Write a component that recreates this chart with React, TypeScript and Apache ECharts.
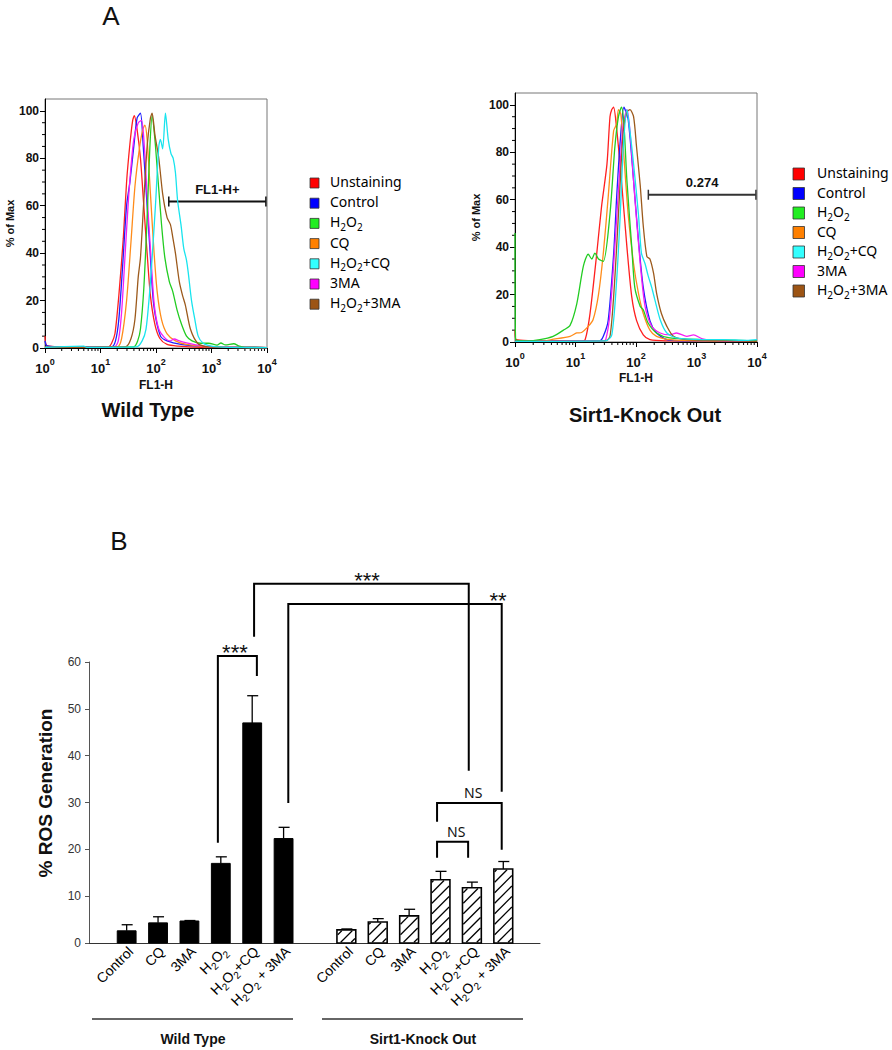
import React, { useEffect, useRef } from "react";
import * as echarts from "echarts";

// ---------- Panel A: flow cytometry histograms ----------
const seriesNames = ["Unstaining", "Control", "H2O2", "CQ", "H2O2+CQ", "3MA", "H2O2+3MA"];
const lineColors = ["#ff1f1f", "#1f1fff", "#22cc22", "#ff8c1a", "#18e4ee", "#f51ef5", "#9c5a1c"];
const legendColors = ["#ff0000", "#0000ff", "#22ee22", "#ff8000", "#33ffff", "#ff00ff", "#9c5414"];

// each point: [log10(FL1-H), % of Max]
const wtUnstaining = [[0, 5], [0.03, 1], [0.2, 0.6], [1.0, 0.3], [1.15, 0.5], [1.2, 2], [1.26, 6], [1.33, 22], [1.41, 46], [1.47, 70], [1.53, 86], [1.58, 96], [1.61, 98], [1.66, 92], [1.72, 80], [1.78, 60], [1.84, 40], [1.9, 22], [1.98, 10], [2.07, 4], [2.2, 1.5], [2.4, 0.8], [2.8, 0.3], [4, 0.2]];
const wtControl = [[0, 3], [0.03, 1], [0.2, 0.5], [1.2, 0.5], [1.27, 3], [1.33, 12], [1.4, 35], [1.47, 60], [1.53, 70], [1.6, 85], [1.66, 97], [1.72, 99], [1.77, 85], [1.84, 60], [1.9, 38], [1.96, 18], [2.08, 5], [2.2, 3], [2.45, 1.5], [2.8, 0.7], [3.2, 0.3], [4, 0.2]];
const wtH2O2 = [[0, 0.3], [1.6, 0.5], [1.67, 3], [1.72, 8], [1.78, 25], [1.84, 55], [1.89, 85], [1.93, 98], [1.98, 88], [2.04, 70], [2.1, 52], [2.16, 38], [2.24, 28], [2.3, 24], [2.38, 16], [2.46, 10], [2.55, 5], [2.65, 3], [2.8, 2], [2.95, 2], [3.1, 1.2], [3.17, 2.1], [3.25, 1.3], [3.4, 1.8], [3.5, 0.8], [3.6, 0.3], [4, 0.2]];
const wtCQ = [[0, 0.3], [1.3, 0.5], [1.38, 4], [1.47, 20], [1.55, 45], [1.62, 68], [1.7, 84], [1.76, 92], [1.8, 94], [1.84, 88], [1.9, 65], [1.96, 42], [2.02, 24], [2.1, 12], [2.2, 6], [2.35, 3], [2.55, 1.5], [2.9, 0.5], [4, 0.2]];
const wtH2O2CQ = [[0, 0.3], [0.7, 0.8], [0.75, 0.3], [1.65, 0.5], [1.75, 3], [1.82, 8], [1.88, 22], [1.93, 38], [1.99, 60], [2.05, 85], [2.08, 88], [2.12, 84], [2.17, 99], [2.22, 88], [2.27, 82], [2.31, 80], [2.35, 74], [2.39, 62], [2.45, 52], [2.5, 42], [2.55, 37], [2.58, 32], [2.64, 20], [2.7, 12], [2.76, 5], [2.85, 2], [3.0, 0.8], [3.3, 0.3], [4, 0.2]];
const wt3MA = [[0, 0.3], [1.25, 0.5], [1.32, 3], [1.38, 15], [1.45, 42], [1.52, 68], [1.6, 88], [1.68, 95], [1.74, 96], [1.79, 85], [1.85, 60], [1.91, 38], [1.97, 18], [2.05, 8], [2.15, 4.5], [2.25, 3], [2.33, 3.8], [2.42, 3], [2.55, 2.2], [2.75, 1.2], [3.0, 0.5], [4, 0.2]];
const wtH2O23MA = [[0, 0.3], [1.45, 0.5], [1.55, 4], [1.62, 12], [1.68, 30], [1.72, 38], [1.78, 62], [1.84, 85], [1.9, 97], [1.93, 99], [1.98, 90], [2.05, 80], [2.12, 65], [2.2, 55], [2.26, 52], [2.3, 47], [2.35, 40], [2.42, 28], [2.48, 22], [2.53, 18], [2.62, 8], [2.75, 2], [2.9, 0.6], [3.2, 0.3], [4, 0.2]];

const koUnstaining = [[0, 5], [0.02, 1], [0.25, 0.6], [1.1, 0.4], [1.16, 1], [1.24, 12], [1.35, 37], [1.43, 57], [1.52, 75], [1.57, 95], [1.6, 98], [1.63, 99], [1.68, 90], [1.76, 68], [1.85, 40], [1.93, 19], [2.01, 9], [2.12, 3], [2.23, 1], [2.5, 0.5], [4, 0.4]];
const koControl = [[0, 0.3], [1.4, 0.5], [1.46, 2.4], [1.54, 9], [1.63, 37], [1.68, 61], [1.74, 85], [1.8, 99], [1.87, 94], [1.96, 68], [2.04, 43], [2.12, 23], [2.23, 9], [2.34, 3.8], [2.51, 1], [2.8, 0.5], [4, 0.3]];
const koH2O2 = [[0, 46], [0.01, 1], [0.2, 0.5], [0.41, 1], [0.63, 2.4], [0.8, 5], [0.91, 7], [1.02, 16], [1.13, 32], [1.21, 37], [1.27, 35], [1.32, 37.5], [1.38, 35], [1.46, 34], [1.57, 54], [1.65, 82], [1.71, 95], [1.76, 99], [1.8, 92], [1.85, 68], [1.93, 40], [1.98, 23], [2.07, 15], [2.12, 13.6], [2.2, 8], [2.34, 3.8], [2.56, 1.7], [3.1, 1], [4, 0.5]];
const koCQ = [[0, 0.3], [0.5, 0.5], [0.6, 1], [0.91, 2.4], [1.02, 3.8], [1.1, 4], [1.21, 6.6], [1.29, 9.4], [1.38, 20], [1.46, 37.5], [1.54, 61], [1.63, 89], [1.68, 92], [1.71, 98], [1.75, 96], [1.79, 82], [1.87, 54], [1.96, 33], [2.04, 20.6], [2.12, 12], [2.23, 5], [2.34, 2.4], [2.56, 1], [3, 0.5], [4, 0.3]];
const koH2O2CQ = [[0, 0.3], [1.5, 0.5], [1.6, 3], [1.68, 26], [1.74, 54], [1.79, 82], [1.85, 98], [1.9, 89], [1.96, 75], [2.04, 54], [2.09, 37.5], [2.15, 33], [2.2, 28], [2.26, 23], [2.31, 18], [2.4, 9.4], [2.51, 3.8], [2.67, 1.7], [3.1, 1], [3.44, 1], [3.83, 0.7], [4, 1]];
const ko3MA = [[0, 0.3], [1.45, 0.5], [1.5, 1], [1.57, 12], [1.65, 40], [1.72, 68], [1.79, 92], [1.85, 98], [1.9, 89], [1.98, 61], [2.07, 33], [2.15, 15], [2.26, 6.6], [2.4, 3.8], [2.56, 3], [2.67, 3.8], [2.84, 2.4], [2.95, 3], [3.1, 1.3], [3.4, 0.5], [4, 0.3]];
const koH2O23MA = [[0, 0.3], [1.5, 0.5], [1.57, 2.4], [1.63, 19], [1.68, 40], [1.74, 68], [1.79, 89], [1.85, 97], [1.9, 98], [1.96, 95], [2.01, 82], [2.07, 66], [2.12, 49], [2.18, 36], [2.23, 35], [2.29, 29], [2.34, 20.6], [2.42, 12], [2.51, 6.6], [2.62, 2.4], [2.84, 1], [4, 0.3]];

const wtCurves = [wtUnstaining, wtControl, wtH2O2, wtCQ, wtH2O2CQ, wt3MA, wtH2O23MA];
const koCurves = [koUnstaining, koControl, koH2O2, koCQ, koH2O2CQ, ko3MA, koH2O23MA];
const drawOrder = [0, 1, 3, 5, 2, 6, 4];

const histYTicks = [0, 20, 40, 60, 80, 100];
const histYMinor = [5, 10, 15, 25, 30, 35, 45, 50, 55, 65, 70, 75, 85, 90, 95];
const histXMinor = [1, 10, 100, 1000].flatMap((d) => [2, 3, 4, 5, 6, 7, 8, 9].map((k) => k * d));

// gates: [FL1-H start, FL1-H end, % of Max]
const wtGate = [170, 9550, 61.8];
const koGate = [160, 9600, 62.1];

// ---------- Panel B: % ROS generation ----------
const barCategories = ["Control", "CQ", "3MA", "H2O2", "H2O2+CQ", "H2O2 + 3MA"];
const wtPos = [0, 1, 2, 3, 4, 5];
const koPos = [7, 8, 9, 10, 11, 12];
const wtMean = [2.6, 4.3, 4.7, 17.0, 47.0, 22.3];
const wtErr = [1.3, 1.3, 0.1, 1.4, 5.8, 2.4];
const koMean = [2.8, 4.5, 5.8, 13.5, 11.8, 15.8];
const koErr = [0.2, 0.7, 1.4, 1.8, 1.2, 1.6];

// significance brackets: [xLeft, yLeftBottom, yTop, xRight, yRightBottom, label, labelX]
const brackets: any[] = [
  [2.906, 21.4, 61.3, 4.149, 57.0, "***", 3.45],
  [4.06, 65.4, 76.7, 10.9, 36.8, "***", 7.66],
  [5.15, 29.9, 72.4, 11.95, 32.3, "**", 11.83],
  [9.89, 25.9, 29.9, 11.95, 19.9, "NS", 11.04],
  [9.89, 18.2, 21.6, 10.88, 18.2, "NS", 10.5],
];

const ARIAL = "'Liberation Sans', Arial, Helvetica, sans-serif";
const SANS = "'Noto Sans', 'Open Sans', sans-serif";

function toRich(label: string) {
  const parts = label.split("H2O2");
  return parts.map((p) => (p ? `{n|${p}}` : "")).join("{n|H}{s|2}{n|O}{s|2}");
}

function histX(gi: number, gap: number) {
  return {
    type: "log",
    logBase: 10,
    gridIndex: gi,
    min: 1,
    max: 10000,
    name: "FL1-H",
    nameLocation: "middle",
    nameGap: gap,
    nameTextStyle: { fontFamily: ARIAL, fontWeight: "bold", fontSize: 12, color: "#111" },
    axisLine: { show: true, onZero: false, lineStyle: { color: "#000", width: 1 } },
    axisTick: { show: true, length: 5, lineStyle: { color: "#000" } },
    minorTick: { show: false },
    splitLine: { show: false },
    axisLabel: {
      margin: 9,
      formatter: (v: number) => `{b|10}{p|${Math.round(Math.log10(v))}}`,
      rich: {
        b: { fontFamily: ARIAL, fontWeight: "bold", fontSize: 13, color: "#111", lineHeight: 18, verticalAlign: "bottom" },
        p: { fontFamily: ARIAL, fontWeight: "bold", fontSize: 9, color: "#111", lineHeight: 9, verticalAlign: "top" },
      },
    },
  };
}

function histY(gi: number, gap: number) {
  return {
    type: "value",
    gridIndex: gi,
    min: 0,
    max: 105,
    interval: 20,
    name: "% of Max",
    nameLocation: "middle",
    nameGap: gap,
    nameRotate: 90,
    nameTextStyle: { fontFamily: ARIAL, fontWeight: "bold", fontSize: 11, color: "#111" },
    axisLine: { show: true, onZero: false, lineStyle: { color: "#000", width: 1 } },
    axisTick: { show: true, length: 5, customValues: histYTicks, lineStyle: { color: "#000" } },
    axisLabel: { customValues: histYTicks, fontFamily: ARIAL, fontWeight: "bold", fontSize: 12, color: "#111", margin: 6 },
    splitLine: { show: false },
  };
}

function minorSeries(gi: number) {
  return [
    {
      type: "custom",
      xAxisIndex: gi,
      yAxisIndex: gi,
      silent: true,
      data: histXMinor.map((v) => [v, 0]),
      encode: { x: 0, y: 1 },
      renderItem: (_p: any, api: any) => {
        const p = api.coord([api.value(0), 0]);
        return { type: "line", shape: { x1: p[0], y1: p[1], x2: p[0], y2: p[1] + 3 }, style: { stroke: "#000", lineWidth: 1 } };
      },
    },
    {
      type: "custom",
      xAxisIndex: gi,
      yAxisIndex: gi,
      silent: true,
      data: histYMinor.map((v) => [1, v]),
      encode: { x: 0, y: 1 },
      renderItem: (_p: any, api: any) => {
        const p = api.coord([1, api.value(1)]);
        return { type: "line", shape: { x1: p[0] - 3, y1: p[1], x2: p[0], y2: p[1] }, style: { stroke: "#000", lineWidth: 1 } };
      },
    },
  ];
}

function histSeries(gi: number, curves: number[][][]) {
  return drawOrder.map((k) => ({
    type: "line",
    name: seriesNames[k],
    xAxisIndex: gi,
    yAxisIndex: gi,
    data: curves[k].map(([e, v]) => [Math.pow(10, e), v]),
    showSymbol: false,
    symbol: "none",
    smooth: 0.25,
    lineStyle: { color: lineColors[k], width: 1.3 },
    itemStyle: { color: lineColors[k] },
  }));
}

function hatch(x0: number, x1: number, yT: number, yB: number, step: number) {
  const out: any[] = [];
  if (yB - yT < 1) return out;
  const start = x0 + yB + 3 - step * Math.ceil((yB - yT + x1 - x0) / step);
  for (let c = start; c < x1 + yB; c += step) {
    const xa = Math.max(x0, c - yB);
    const xb = Math.min(x1, c - yT);
    if (xb - xa > 0.5) {
      out.push({ type: "line", shape: { x1: xa, y1: c - xa, x2: xb, y2: c - xb }, style: { stroke: "#000", lineWidth: 1.3 } });
    }
  }
  return out;
}

function barSeries(pos: number[], mean: number[], err: number[], hatched: boolean) {
  return {
    type: "custom",
    xAxisIndex: 2,
    yAxisIndex: 2,
    data: pos.map((x, i) => [x, mean[i], err[i]]),
    encode: { x: 0, y: 1 },
    renderItem: (_p: any, api: any) => {
      const x = api.value(0);
      const v = api.value(1);
      const e = api.value(2);
      const base = api.coord([x, 0]);
      const top = api.coord([x, v]);
      const et = api.coord([x, v + e]);
      const bw = api.size([0.6, 0])[0];
      const x0 = base[0] - bw / 2;
      const x1 = base[0] + bw / 2;
      const children: any[] = [
        { type: "line", shape: { x1: base[0], y1: top[1], x2: base[0], y2: et[1] }, style: { stroke: "#000", lineWidth: 1.3 } },
        { type: "line", shape: { x1: base[0] - 5, y1: et[1], x2: base[0] + 6, y2: et[1] }, style: { stroke: "#000", lineWidth: 1.3 } },
        {
          type: "rect",
          shape: { x: x0, y: top[1], width: bw, height: base[1] - top[1] },
          style: hatched ? { fill: "#fff", stroke: "#000", lineWidth: 1.6 } : { fill: "#000", stroke: "#000", lineWidth: 1 },
        },
      ];
      if (hatched) children.push(...hatch(x0 + 0.8, x1 - 0.8, top[1] + 0.8, base[1] - 0.8, 10.5));
      return { type: "group", children };
    },
  };
}

const baseOption: any = {
  animation: false,
  backgroundColor: "#ffffff",
  grid: [
    { left: 45, top: 99, width: 222, height: 249, show: true, borderColor: "#777", borderWidth: 1 },
    { left: 515, top: 93, width: 242, height: 249, show: true, borderColor: "#777", borderWidth: 1 },
    { left: 89, top: 662, width: 451, height: 281 },
  ],
  xAxis: [
    histX(0, 31),
    histX(1, 30),
    {
      type: "value",
      gridIndex: 2,
      min: -1.2,
      max: 13.17,
      axisLine: { show: true, onZero: false, lineStyle: { color: "#333", width: 1 } },
      axisTick: { show: false },
      axisLabel: { show: false },
      splitLine: { show: false },
    },
  ],
  yAxis: [
    histY(0, 30),
    histY(1, 34),
    {
      type: "value",
      gridIndex: 2,
      min: 0,
      max: 60,
      interval: 10,
      axisLine: { show: true, onZero: false, lineStyle: { color: "#555", width: 1 } },
      axisTick: { show: true, length: 4, lineStyle: { color: "#555" } },
      axisLabel: { fontFamily: ARIAL, fontSize: 12, color: "#333", margin: 8 },
      splitLine: { show: false },
    },
  ],
  series: [
    ...minorSeries(0),
    ...minorSeries(1),
    ...histSeries(0, wtCurves),
    ...histSeries(1, koCurves),
    barSeries(wtPos, wtMean, wtErr, false),
    barSeries(koPos, koMean, koErr, true),
  ],
};

export default function App() {
  const ref = useRef<HTMLDivElement>(null);
  useEffect(() => {
    const chart = echarts.init(ref.current as HTMLDivElement, null, { renderer: "svg" });
    chart.setOption(baseOption);
    const px = (gi: number, x: number, y: number) =>
      chart.convertToPixel({ xAxisIndex: gi, yAxisIndex: gi } as any, [x, y]) as number[];

    const g: any[] = [];
    const text = (x: number, y: number, t: string, style: any, extra: any = {}) =>
      g.push({ type: "text", x, y, ...extra, style: { text: t, fill: "#111", align: "center", verticalAlign: "middle", ...style } });

    // panel letters
    text(111, 16, "A", { fontFamily: ARIAL, fontSize: 26 });
    text(119, 541, "B", { fontFamily: ARIAL, fontSize: 26 });

    // histogram titles
    text(148, 410, "Wild Type", { fontFamily: ARIAL, fontSize: 20, fontWeight: "bold" });
    text(645, 415, "Sirt1-Knock Out", { fontFamily: ARIAL, fontSize: 20, fontWeight: "bold" });

    // gates
    const gate = (gi: number, gd: number[], label: string, color: string) => {
      const a = px(gi, gd[0], gd[2]);
      const b = px(gi, gd[1], gd[2]);
      g.push({ type: "line", shape: { x1: a[0], y1: a[1], x2: b[0], y2: b[1] }, style: { stroke: color, lineWidth: 2 } });
      g.push({ type: "line", shape: { x1: a[0], y1: a[1] - 5, x2: a[0], y2: a[1] + 5 }, style: { stroke: color, lineWidth: 1.5 } });
      g.push({ type: "line", shape: { x1: b[0], y1: b[1] - 5, x2: b[0], y2: b[1] + 5 }, style: { stroke: color, lineWidth: 1.5 } });
      text((a[0] + b[0]) / 2, a[1] - 12, label, { fontFamily: ARIAL, fontSize: 13, fontWeight: "bold" });
    };
    gate(0, wtGate, "FL1-H+", "#111");
    gate(1, koGate, "0.274", "#333");

    // legends
    const legendRich = {
      n: { fontFamily: SANS, fontSize: 14, color: "#222", lineHeight: 17, verticalAlign: "top" },
      s: { fontFamily: SANS, fontSize: 10, color: "#222", lineHeight: 8, verticalAlign: "bottom" },
    };
    const legend = (sx: number, tx: number, y0: number, gap: number, sw: number, sh: number) => {
      seriesNames.forEach((name, i) => {
        const cy = y0 + i * gap;
        g.push({ type: "rect", shape: { x: sx, y: cy - sh / 2, width: sw, height: sh }, style: { fill: legendColors[i], stroke: "#333", lineWidth: 0.8 } });
        g.push({ type: "text", x: tx, y: cy, style: { text: toRich(name), rich: legendRich, align: "left", verticalAlign: "middle" } });
      });
    };
    legend(310, 330, 183, 20.2, 9, 10);
    legend(793, 817, 174, 19.5, 11.5, 12);

    // panel B y-axis title
    text(45, 793, "% ROS Generation", { fontFamily: ARIAL, fontSize: 19, fontWeight: "bold" }, { rotation: Math.PI / 2 });

    // category labels
    const catRich = {
      n: { fontFamily: ARIAL, fontSize: 14, color: "#222", lineHeight: 17, verticalAlign: "top" },
      s: { fontFamily: ARIAL, fontSize: 10, color: "#222", lineHeight: 8, verticalAlign: "bottom" },
    };
    [...wtPos, ...koPos].forEach((pos, i) => {
      const p = px(2, pos, 0);
      g.push({
        type: "text",
        x: p[0] + 5,
        y: p[1] + 7,
        rotation: Math.PI / 4,
        style: { text: toRich(barCategories[i % 6]), rich: catRich, align: "right", verticalAlign: "middle" },
      });
    });

    // group underlines and names
    g.push({ type: "line", shape: { x1: 92, y1: 1019, x2: 293, y2: 1019 }, style: { stroke: "#333", lineWidth: 1.5 } });
    g.push({ type: "line", shape: { x1: 322, y1: 1019, x2: 523, y2: 1019 }, style: { stroke: "#333", lineWidth: 1.5 } });
    text(193, 1039, "Wild Type", { fontFamily: ARIAL, fontSize: 14, fontWeight: "bold" });
    text(423, 1039, "Sirt1-Knock Out", { fontFamily: ARIAL, fontSize: 14, fontWeight: "bold" });

    // significance brackets
    brackets.forEach(([xl, yl, yt, xr, yr, label, lx]) => {
      const a = px(2, xl, yl);
      const b = px(2, xl, yt);
      const c = px(2, xr, yt);
      const d = px(2, xr, yr);
      g.push({ type: "polyline", shape: { points: [a, b, c, d] }, style: { stroke: "#000", lineWidth: 2, fill: "none" } });
      const l = px(2, lx, yt);
      if (label === "NS") {
        text(l[0], l[1] - 10.5, label, { fontFamily: SANS, fontSize: 14, fill: "#111" });
      } else {
        text(l[0], l[1] - 3, label, { fontFamily: ARIAL, fontSize: 22, fill: "#111" });
      }
    });

    chart.setOption({ graphic: { elements: g } });
    return () => chart.dispose();
  }, []);
  return <div ref={ref} style={{ position: "absolute", left: 0, top: 0, width: 892, height: 1050 }} />;
}
